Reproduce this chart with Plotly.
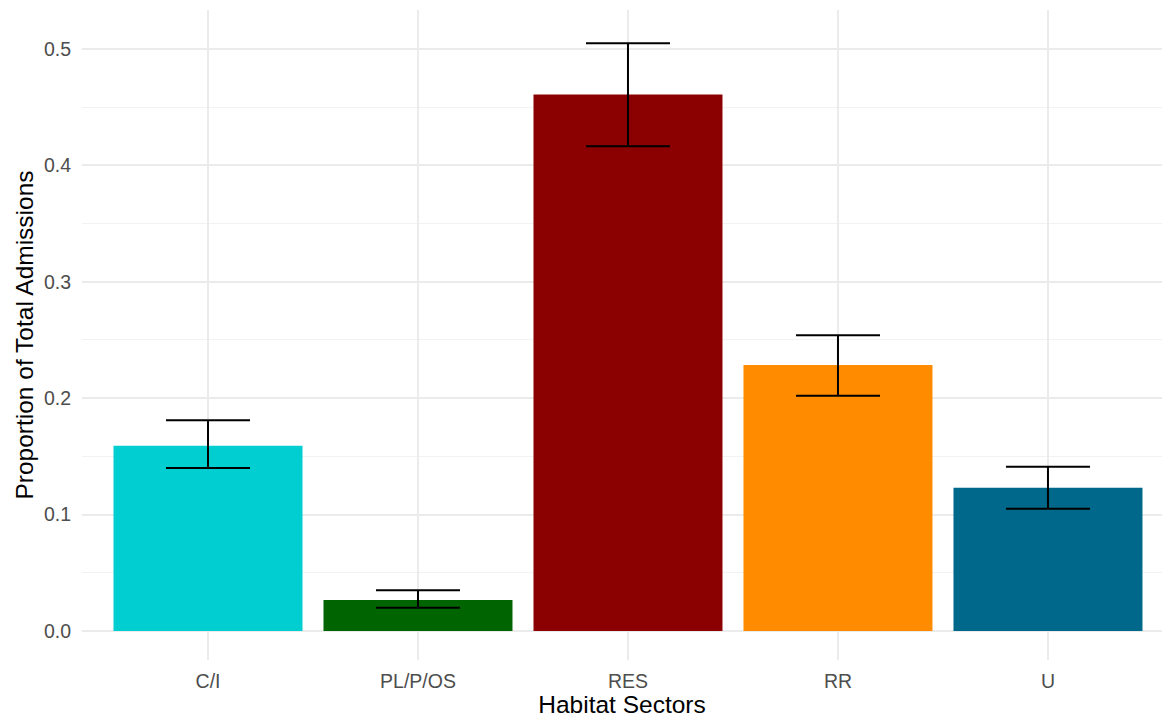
import plotly.graph_objects as go

# Proportion of admissions per habitat sector with confidence limits
sectors = ["C/I", "PL/P/OS", "RES", "RR", "U"]
proportion = [0.159, 0.0266, 0.461, 0.2285, 0.123]
upper = [0.181, 0.035, 0.505, 0.254, 0.141]
lower = [0.140, 0.0198, 0.4165, 0.202, 0.105]
colors = ["#00CED1", "#006400", "#8B0000", "#FF8C00", "#00688B"]

err_plus = [u - p for u, p in zip(upper, proportion)]
err_minus = [p - l for p, l in zip(proportion, lower)]

fig = go.Figure(
    go.Bar(
        x=sectors,
        y=proportion,
        width=0.9,
        marker=dict(color=colors, line=dict(width=0)),
        error_y=dict(
            type="data",
            symmetric=False,
            array=err_plus,
            arrayminus=err_minus,
            color="black",
            thickness=2,
            width=42,
        ),
        showlegend=False,
    )
)

fig.update_layout(
    width=1162,
    height=722,
    margin=dict(l=82, r=0, t=10, b=62),
    paper_bgcolor="white",
    plot_bgcolor="white",
    font=dict(family="Liberation Sans, Arial, sans-serif"),
    bargap=0.1,
    xaxis=dict(
        range=[-0.6, 4.543],
        showgrid=True,
        gridcolor="#EBEBEB",
        gridwidth=1.5,
        zeroline=False,
        showline=False,
        ticks="",
        tickfont=dict(size=19.5, color="#4D4D4D"),
        ticklabelstandoff=7,
        title=dict(text="Habitat Sectors", font=dict(size=24.5, color="black"), standoff=5),
    ),
    yaxis=dict(
        range=[-0.025, 0.5335],
        tickvals=[0, 0.1, 0.2, 0.3, 0.4, 0.5],
        ticktext=["0.0", "0.1", "0.2", "0.3", "0.4", "0.5"],
        showgrid=True,
        gridcolor="#EBEBEB",
        gridwidth=1.5,
        minor=dict(
            tickvals=[0.05, 0.15, 0.25, 0.35, 0.45],
            showgrid=True,
            gridcolor="#F2F2F2",
            gridwidth=1,
        ),
        zeroline=False,
        showline=False,
        ticks="",
        tickfont=dict(size=19.5, color="#4D4D4D"),
        ticklabelstandoff=10,
        title=dict(text="Proportion of Total Admissions", font=dict(size=24.5, color="black"), standoff=3),
    ),
)

fig.write_html("out.html")
